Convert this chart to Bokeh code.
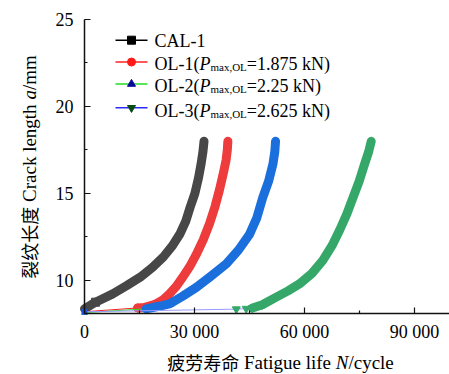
import math
from bokeh.plotting import figure
from bokeh.models import Range1d, FixedTicker, Label
from bokeh.embed import file_html
from bokeh.resources import INLINE

# ---------------- data ----------------
cal1_N = [0, 3000, 7700, 11500, 15200, 18500, 21500, 24000, 26100, 27600, 28800, 30100, 31100, 31800, 32300, 32600]
cal1_a = [8.37, 8.75, 9.23, 9.7, 10.19, 10.75, 11.35, 12.0, 12.7, 13.4, 14.2, 15.0, 15.9, 16.7, 17.4, 18.0]

ol1_N = [0, 14500, 16500, 19500, 21500, 23200, 25000, 26800, 28700, 30500, 32400, 34100, 35600, 36800, 37800, 38600, 38950, 39100]
ol1_a = [8.2, 8.42, 8.45, 8.65, 8.9, 9.23, 9.65, 10.19, 10.8, 11.5, 12.35, 13.27, 14.25, 15.2, 16.1, 16.9, 17.5, 18.0]

ol2_N = [0, 16800, 20000, 23200, 26800, 30500, 34500, 38700, 42000, 45000, 47000, 48600, 50200, 51400, 51900, 52100]
ol2_a = [8.15, 8.37, 8.5, 8.65, 9.1, 9.6, 10.25, 10.96, 11.75, 12.65, 13.6, 14.75, 15.7, 16.7, 17.4, 18.0]

ol3_N = [0, 41400, 44100, 45800, 48500, 52300, 55500, 58600, 62000, 65000, 67500, 69600, 71500, 73200, 74900, 76400, 77500, 78200]
ol3_a = [8.2, 8.35, 8.38, 8.42, 8.6, 9.04, 9.4, 9.8, 10.4, 11.15, 12.0, 12.9, 13.8, 14.75, 15.7, 16.7, 17.4, 18.0]

series_names = ["CAL-1", "OL-1", "OL-2", "OL-3"]
series_loads = [None, "1.875", "2.25", "2.625"]

x_ticks = [0, 30000, 60000, 90000]
x_tick_labels = ["0", "30 000", "60 000", "90 000"]
x_minor = [15000, 45000, 75000]
y_ticks = [10, 15, 20, 25]
y_tick_labels = ["10", "15", "20", "25"]
y_minor = [12.5, 17.5, 22.5]

x_label_cn = "疲劳寿命"
x_label_parts = [(" Fatigue life ", "normal"), ("N", "italic"), ("/cycle", "normal")]
y_label_cn = "裂纹长度"
y_label_parts = [(" Crack length ", "normal"), ("a", "italic"), ("/mm", "normal")]

# ---------------- layout ----------------
W, H = 449, 374
PL, PR, PT, PB = 84, 449, 19, 313          # pixel box of the axes
X0, X1 = 0, (PR - PL) * 30000 / 110
Y0, Y1 = 8.1, 25
kx = (X1 - X0) / (PR - PL)
ky = (Y1 - Y0) / (PB - PT)
BASE_FIX = 5  # empirical baseline correction for Label text

SERIF = "Liberation Serif"
CJK = "Noto Sans CJK SC"

# the frame covers the whole canvas; axes are pinned at the data origin
p = figure(width=W, height=H, output_backend="svg", toolbar_location=None,
           x_range=Range1d(X0 - PL * kx, X1 + (W - PR) * kx),
           y_range=Range1d(Y0 - (H - PB) * ky, Y1 + PT * ky),
           min_border=0)
p.outline_line_color = None
p.grid.visible = False
p.background_fill_color = "white"
p.border_fill_color = "white"

p.xaxis[0].fixed_location = Y0
p.yaxis[0].fixed_location = X0
p.xaxis[0].bounds = (X0, X1)
p.yaxis[0].bounds = (Y0, Y1)

for ax, ticks, labels, minor in ((p.xaxis[0], x_ticks, x_tick_labels, x_minor),
                                 (p.yaxis[0], y_ticks, y_tick_labels, y_minor)):
    ax.ticker = FixedTicker(ticks=ticks, minor_ticks=minor)
    ax.major_label_overrides = {t: l for t, l in zip(ticks, labels)}
    ax.major_label_text_font = SERIF
    ax.major_label_text_font_size = "18px"
    ax.major_label_text_color = "black"
    ax.axis_line_color = "#111111"
    ax.axis_line_width = 1.5
    ax.major_tick_line_color = "#111111"
    ax.minor_tick_line_color = "#111111"
    ax.major_tick_line_width = 1.2
    ax.minor_tick_line_width = 1.2
    ax.major_tick_in = 6
    ax.major_tick_out = 0
    ax.minor_tick_in = 3
    ax.minor_tick_out = 0
p.yaxis[0].major_label_standoff = 11
p.xaxis[0].major_label_standoff = 8

# ---------------- curves ----------------
# (N, a, thin line colour, band colour, marker, first index of the dense band, number of visible start markers)
curve_specs = [
    (cal1_N, cal1_a, "black", "#474747", "square", 0, 1),
    (ol1_N, ol1_a, "#ff2020", "#ee3b3b", "circle", 1, 3),
    (ol2_N, ol2_a, "#33dd33", "#1b6fdd", "triangle", 1, 3),
    (ol3_N, ol3_a, "#9999ff", "#35a869", "inverted_triangle", 3, 4),
]
for N, a, thin_col, col, marker, dense_from, nmark in curve_specs:
    p.line(N, a, line_color=thin_col, line_width=1)
    p.line(N[dense_from:], a[dense_from:], line_color=col, line_width=9, line_cap="round", line_join="round")
    p.scatter(N[1:1 + nmark], a[1:1 + nmark], marker=marker, size=8, fill_color=col, line_color=col)
# initial points at N=0
p.scatter([ol2_N[0]], [ol2_a[0]], marker="triangle", size=6, fill_color="#22cc22", line_color="#22cc22")
p.scatter([ol1_N[0]], [ol1_a[0]], marker="square", size=5, fill_color="#2255dd", line_color="#2255dd")

# ---------------- legend (manual, for mixed-style text) ----------------
def dx(cx):
    return X0 + (cx - PL) * kx

def dy(cy):
    return Y0 + (PB - cy) * ky

TW = {' ': 250, '(': 333, ')': 333, '-': 333, '.': 250, ',': 250, '/': 278, '=': 564,
      'A': 722, 'C': 667, 'L': 611, 'N': 722, 'O': 722, 'F': 556, 'P': 556,
      'a': 444, 'c': 444, 'e': 444, 'f': 333, 'g': 500, 'h': 500, 'i': 278, 'k': 500,
      'l': 278, 'm': 778, 'n': 500, 'r': 333, 't': 278, 'u': 500, 'x': 500, 'y': 500}
TWI = {'N': 667, 'P': 611, 'a': 500}

def tw(s, size, italic=False):
    tot = 0
    for ch in s:
        if italic and ch in TWI:
            tot += TWI[ch]
        elif ch.isdigit():
            tot += 500
        else:
            tot += TW.get(ch, 1000 if ord(ch) > 255 else 500)
    return tot / 1000 * size

def lab(text, cx, cy, size, font=SERIF, style="normal", rotated=False):
    """place text with its start at (cx, cy) (canvas pixels, alphabetic baseline);
    leading spaces are turned into an offset because SVG collapses them."""
    lead = len(text) - len(text.lstrip(" "))
    off = tw(" " * lead, size)
    text = text.strip(" ")
    if rotated:
        x, y, ang = cx - BASE_FIX, cy - off, math.pi / 2
    else:
        x, y, ang = cx + off, cy - BASE_FIX, 0
    p.add_layout(Label(x=x, y=H - y, x_units="screen", y_units="screen", text=text,
                       text_font=font, text_font_size=f"{size}px", text_font_style=style,
                       text_color="black", text_baseline="alphabetic", text_align="left",
                       angle=ang, angle_units="rad"))

leg_line_col = ["black", "#ff2020", "#22dd22", "#2a2aff"]
leg_mark_col = ["black", "#ff1a1a", "#0a0a9a", "#0a4a14"]
leg_marker = ["square", "circle", "triangle", "inverted_triangle"]
row_mark_y = [39.7, 61.5, 83.5, 107.3]
row_base_y = [45.3, 68.0, 90.7, 115]
LX0, LX1, LXM, TX = 115, 147, 131, 154
FS = 18
for i in range(4):
    p.line([dx(LX0), dx(LX1)], [dy(row_mark_y[i])] * 2, line_color=leg_line_col[i], line_width=1.5)
    p.scatter([dx(LXM)], [dy(row_mark_y[i])], marker=leg_marker[i], size=8,
              fill_color=leg_mark_col[i], line_color=leg_mark_col[i])
    by = row_base_y[i]
    if series_loads[i] is None:
        lab(series_names[i], TX, by, FS)
    else:
        x = TX
        t = series_names[i] + "("
        lab(t, x, by, FS); x += tw(t, FS)
        lab("P", x, by, FS, style="italic"); x += tw("P", FS, True)
        lab("max,OL", x, by + 3, 11); x += tw("max,OL", 11)
        lab("=" + series_loads[i] + " kN)", x, by, FS)

# ---------------- axis titles ----------------
XS = 19
XB = 366.5
total = 4 * 18 + sum(tw(t, XS, s == "italic") for t, s in x_label_parts)
x = 280 - total / 2
lab(x_label_cn, x, XB, 18, font=CJK); x += 4 * 18
for t, s in x_label_parts:
    lab(t, x, XB, XS, style=s); x += tw(t, XS, s == "italic")

# y title rotated (reading upwards)
total = 4 * 18 + sum(tw(t, XS, s == "italic") for t, s in y_label_parts)
yy = 166.5 + total / 2
bx = 33.5
lab(y_label_cn, bx, yy, 18, font=CJK, rotated=True); yy -= 4 * 18
for t, s in y_label_parts:
    lab(t, bx, yy, XS, style=s, rotated=True); yy -= tw(t, XS, s == "italic")

open("out.html", "w").write(file_html(p, INLINE))
